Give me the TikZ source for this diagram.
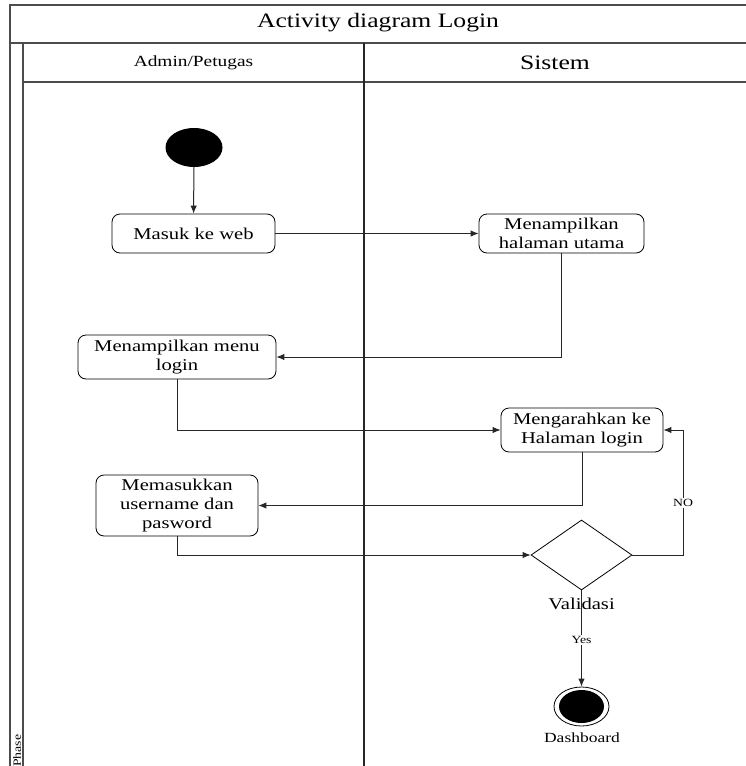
\documentclass[tikz,border=0pt]{standalone}
\usepackage{fontspec}
\setmainfont[FakeStretch=1.25]{Liberation Serif}
\usetikzlibrary{shapes.geometric,arrows.meta}
\newcommand{\fs}[2]{\fontsize{#1}{#2}\selectfont}
\begin{document}
\begin{tikzpicture}[x=1pt,y=-1pt,
  frame/.style={draw=black!70,line width=1.3pt},
  lane/.style={draw=black!85,line width=1.3pt},
  actbox/.style={draw,rectangle,rounded corners=8pt,align=center,inner sep=0pt,line width=0.8pt,font=\fs{16.5}{19}},
  arr/.style={draw=black!85,line width=1pt,-{Latex[length=8pt,width=6.5pt]}},
  lbl/.style={inner sep=1pt}
]
\useasboundingbox (0,0) rectangle (746,766);
% frame
\draw[frame] (10,766) -- (10,5) -- (746,5);
\draw[frame] (10,43) -- (746,43);
\draw[frame] (23,766) -- (23,43);
\draw[frame] (23,82) -- (746,82);
\draw[lane] (364,43) -- (364,766);
\node[lbl,font=\fs{20.5}{24}] (title) at (378,23) {Activity diagram Login};
\node[lbl,font=\fs{15.5}{18}] (laneA) at (193.5,63) {Admin/Petugas};
\node[lbl,font=\fs{20.5}{24}] (laneB) at (555,63) {Sistem};
\node[inner sep=0pt,rotate=90,anchor=west,font=\fs{11}{13}] (phase) at (17,767) {Phase};
% nodes
\node[ellipse,fill=black,minimum width=57pt,minimum height=39pt,inner sep=0pt] (start) at (194,147.5) {};
\node[actbox,minimum width=163pt,minimum height=39pt] (masuk) at (193.5,233.5) {Masuk ke web};
\node[actbox,minimum width=165pt,minimum height=39pt] (halaman) at (561.5,233.5) {Menampilkan\\halaman utama};
\node[actbox,minimum width=198pt,minimum height=44pt] (menu) at (177,357) {Menampilkan menu\\login};
\node[actbox,minimum width=162pt,minimum height=44pt] (arah) at (582,430) {Mengarahkan ke\\Halaman login};
\node[actbox,minimum width=162pt,minimum height=61pt] (mem) at (177,505.5) {Memasukkan\\username dan\\pasword};
\node[diamond,draw,line width=0.8pt,minimum width=101pt,minimum height=70pt,inner sep=0pt] (valid) at (581.5,555) {};
\node[lbl,font=\fs{16.5}{19}] (validtxt) at (581.5,604) {Validasi};
\node[ellipse,draw,line width=0.8pt,minimum width=55pt,minimum height=39pt,inner sep=0pt] (final) at (581.5,706.5) {};
\node[ellipse,fill=black,minimum width=45pt,minimum height=33pt,inner sep=0pt] (finalin) at (581.5,706.5) {};
\node[lbl,font=\fs{14}{16}] (dash) at (582,738) {Dashboard};
\coordinate (noc) at (683,555);
% edges
\draw[arr] (start) -- (masuk);
\draw[arr] (masuk) -- (halaman);
\draw[arr] (halaman.south) |- (menu.east);
\draw[arr] (menu.south) |- (arah.west);
\draw[arr] (arah.south) |- (mem.east);
\draw[arr] (mem.south) |- (valid.west);
\draw[arr] (valid.east) -- (noc) |- (arah.east);
\draw[arr] (valid.south) -- (final.north);
\node[lbl,fill=white,font=\fs{11}{13}] (no) at (683,503) {NO};
\node[lbl,fill=white,font=\fs{11}{13}] (yes) at (581.5,640) {Yes};
\end{tikzpicture}
\end{document}
